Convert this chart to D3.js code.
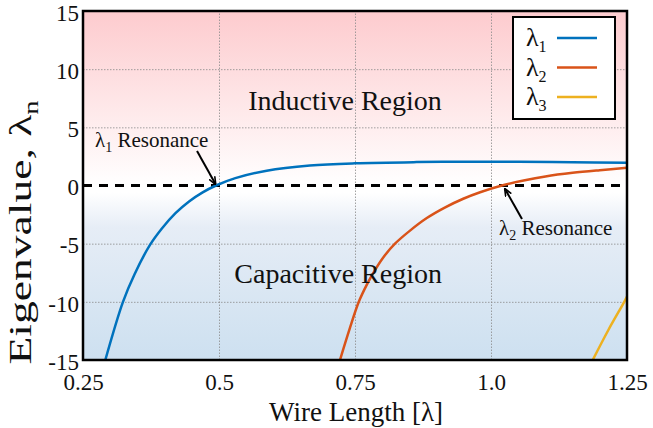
<!DOCTYPE html>
<html>
<head>
<meta charset="utf-8">
<script src="https://cdn.jsdelivr.net/npm/d3@7"></script>
<style>
  body { margin: 0; background: #fff; }
  svg { display: block; }
  text { font-family: "Liberation Serif", "Times New Roman", serif; fill: #111; }
  .grid line { stroke: #8a8a8a; stroke-width: 0.8; stroke-dasharray: 1.5,1.5; }
  .grid path { display: none; }
  .axis path, .axis line { display: none; }
</style>
</head>
<body>
<div id="chart"></div>
<script>
"use strict";

// values
var blueX = [0.291, 0.3235, 0.345, 0.3726, 0.395, 0.42, 0.445, 0.47, 0.4945, 0.53, 0.5877, 0.667, 0.75, 0.863, 0.95, 1.05, 1.15, 1.25];
var blueY = [-15, -10, -7.6, -5.15, -3.7, -2.38, -1.37, -0.59, 0, 0.63, 1.27, 1.71, 1.905, 2.01, 2.04, 2.04, 2.0, 1.95];

var redX = [0.7224, 0.74, 0.757, 0.772, 0.787, 0.805, 0.8235, 0.85, 0.882, 0.915, 0.949, 0.98, 1.02, 1.06, 1.1, 1.15, 1.2, 1.25];
var redY = [-15, -12.35, -10, -8.5, -7.25, -6.0, -5, -3.92, -2.8, -1.9, -1.14, -0.58, 0, 0.43, 0.78, 1.09, 1.32, 1.52];

var yellowX = [1.187, 1.216, 1.245, 1.25];
var yellowY = [-15, -12.4, -10, -9.55];

var xTicks = [0.25, 0.5, 0.75, 1.0, 1.25];
var xTickLabels = ['0.25', '0.5', '0.75', '1.0', '1.25'];
var yTicks = [15, 10, 5, 0, -5, -10, -15];

var seriesNames = ['1', '2', '3'];
var seriesColors = ['#0072bd', '#d95319', '#edb120'];

var width = 653, height = 428;
var margin = {top: 11, right: 26, bottom: 68, left: 83};
var w = width - margin.left - margin.right;
var h = height - margin.top - margin.bottom;
var serif = '"Liberation Serif", "Times New Roman", serif';

var svg = d3.select('#chart').append('svg')
    .attr('width', width)
    .attr('height', height);

var defs = svg.append('defs');

var x = d3.scaleLinear().domain([0.25, 1.25]).range([0, w]);
var y = d3.scaleLinear().domain([-15, 15]).range([h, 0]);

// background: pink above zero, blue below
var grad = defs.append('linearGradient')
    .attr('id', 'bg')
    .attr('x1', 0).attr('y1', 0).attr('x2', 0).attr('y2', 1);
var z = y(0) / h;
grad.append('stop').attr('offset', 0).attr('stop-color', '#fdcbce');
grad.append('stop').attr('offset', z).attr('stop-color', '#ffffff');
grad.append('stop').attr('offset', z + 0.02).attr('stop-color', '#ffffff');
grad.append('stop').attr('offset', z + 0.12).attr('stop-color', '#e6edf6');
grad.append('stop').attr('offset', 1).attr('stop-color', '#cde0f0');

defs.append('marker')
    .attr('id', 'arrow')
    .attr('viewBox', '0 0 10 10')
    .attr('refX', 9).attr('refY', 5)
    .attr('markerWidth', 8).attr('markerHeight', 8)
    .attr('markerUnits', 'userSpaceOnUse')
    .attr('orient', 'auto')
  .append('path')
    .attr('d', 'M0,1 L10,5 L0,9')
    .attr('fill', 'none')
    .attr('stroke', '#000')
    .attr('stroke-width', 2);

var g = svg.append('g')
    .attr('transform', 'translate(' + margin.left + ',' + margin.top + ')');

g.append('rect')
    .attr('width', w).attr('height', h)
    .attr('fill', 'url(#bg)');

// grid
g.append('g')
    .attr('class', 'grid')
    .call(d3.axisLeft(y).tickValues(yTicks.filter(function (d) { return d !== 0 && Math.abs(d) !== 15; }))
        .tickSize(-w).tickFormat(''));
g.append('g')
    .attr('class', 'grid')
    .attr('transform', 'translate(0,' + h + ')')
    .call(d3.axisBottom(x).tickValues(xTicks.slice(1, -1)).tickSize(-h).tickFormat(''));

// tick labels
var yAxis = g.append('g')
    .attr('class', 'axis')
    .call(d3.axisLeft(y).tickValues(yTicks).tickSize(0).tickPadding(4)
        .tickFormat(function (d) { return String(d); }));
yAxis.selectAll('text').attr('dy', '0.4em');
var xAxis = g.append('g')
    .attr('class', 'axis')
    .attr('transform', 'translate(0,' + h + ')')
    .call(d3.axisBottom(x).tickValues(xTicks).tickSize(0).tickPadding(14)
        .tickFormat(function (d, i) { return xTickLabels[i]; }));
[yAxis, xAxis].forEach(function (a) {
    a.attr('font-family', serif).attr('font-size', 23);
    a.selectAll('text')
        .attr('font-family', serif)
        .style('font-family', serif)
        .style('font-size', '23px')
        .style('fill', '#111');
});

// zero line
g.append('line')
    .attr('x1', 0).attr('x2', w)
    .attr('y1', y(0)).attr('y2', y(0))
    .attr('stroke', '#000')
    .attr('stroke-width', 3)
    .attr('stroke-dasharray', '9,7');

// curves
var line = d3.line()
    .x(function (d) { return x(d[0]); })
    .y(function (d) { return y(d[1]); })
    .curve(d3.curveCatmullRom.alpha(0.5));

var series = [
    d3.zip(blueX, blueY),
    d3.zip(redX, redY),
    d3.zip(yellowX, yellowY)
];

g.append('clipPath').attr('id', 'clip')
  .append('rect').attr('width', w).attr('height', h);

g.append('g').attr('clip-path', 'url(#clip)')
  .selectAll('path')
    .data(series)
    .enter().append('path')
    .attr('d', line)
    .attr('fill', 'none')
    .attr('stroke', function (d, i) { return seriesColors[i]; })
    .attr('stroke-width', 2.5);

// region labels
g.append('text')
    .attr('x', x(0.7316)).attr('y', y(6.5))
    .attr('text-anchor', 'middle')
    .style('font-size', '28px')
    .text('Inductive Region');
g.append('text')
    .attr('x', x(0.719)).attr('y', y(-8.4))
    .attr('text-anchor', 'middle')
    .style('font-size', '28px')
    .text('Capacitive Region');

// resonance annotations
function resonance(label, sub, tx, ty, ax1, ay1, ax2, ay2) {
    var t = g.append('text')
        .attr('x', x(tx)).attr('y', y(ty))
        .style('font-size', '21px');
    t.append('tspan').text(label);
    t.append('tspan').attr('dy', 5).style('font-size', '14px').text(sub);
    t.append('tspan').attr('dy', -5).text(' Resonance');
    g.append('line')
        .attr('x1', x(ax1)).attr('y1', y(ay1))
        .attr('x2', x(ax2)).attr('y2', y(ay2))
        .attr('stroke', '#000')
        .attr('stroke-width', 2)
        .attr('marker-end', 'url(#arrow)');
}
resonance('\u03bb', '1', 0.272, 3.3, 0.4596, 2.97, 0.4935, 0.12);
resonance('\u03bb', '2', 1.0147, -4.26, 1.057, -2.88, 1.0257, -0.3);

// frame
g.append('rect')
    .attr('width', w).attr('height', h)
    .attr('fill', 'none')
    .attr('stroke', '#000')
    .attr('stroke-width', 2.5);

// legend
var legend = g.append('g')
    .attr('transform', 'translate(' + (513 - margin.left) + ',' + (17 - margin.top) + ')');
legend.append('rect')
    .attr('width', 102).attr('height', 102)
    .attr('fill', '#fff')
    .attr('stroke', '#000')
    .attr('stroke-width', 2);
var item = legend.selectAll('.item')
    .data(seriesNames)
    .enter().append('g')
    .attr('class', 'item')
    .attr('transform', function (d, i) { return 'translate(0,' + (21 + i * 29.5) + ')'; });
item.append('line')
    .attr('x1', 44).attr('x2', 84)
    .attr('stroke', function (d, i) { return seriesColors[i]; })
    .attr('stroke-width', 2.5);
var lt = item.append('text')
    .attr('x', 13).attr('y', 8)
    .style('font-size', '26px');
lt.append('tspan').text('\u03bb');
lt.append('tspan').attr('dy', 6).style('font-size', '16px').text(function (d) { return d; });

// axis titles
svg.append('text')
    .attr('x', margin.left + x(0.75) + 1)
    .attr('y', 421)
    .attr('text-anchor', 'middle')
    .style('font-size', '27px')
    .text('Wire Length [\u03bb]');

var yt = svg.append('text')
    .attr('transform', 'translate(31,' + (margin.top + y(0) + 47) + ') rotate(-90)')
    .attr('text-anchor', 'middle')
    .attr('textLength', 264)
    .attr('lengthAdjust', 'spacingAndGlyphs')
    .style('font-size', '32px');
yt.append('tspan').text('Eigenvalue, \u03bb');
yt.append('tspan').attr('dy', 7).style('font-size', '20px').text('n');
</script>
</body>
</html>
